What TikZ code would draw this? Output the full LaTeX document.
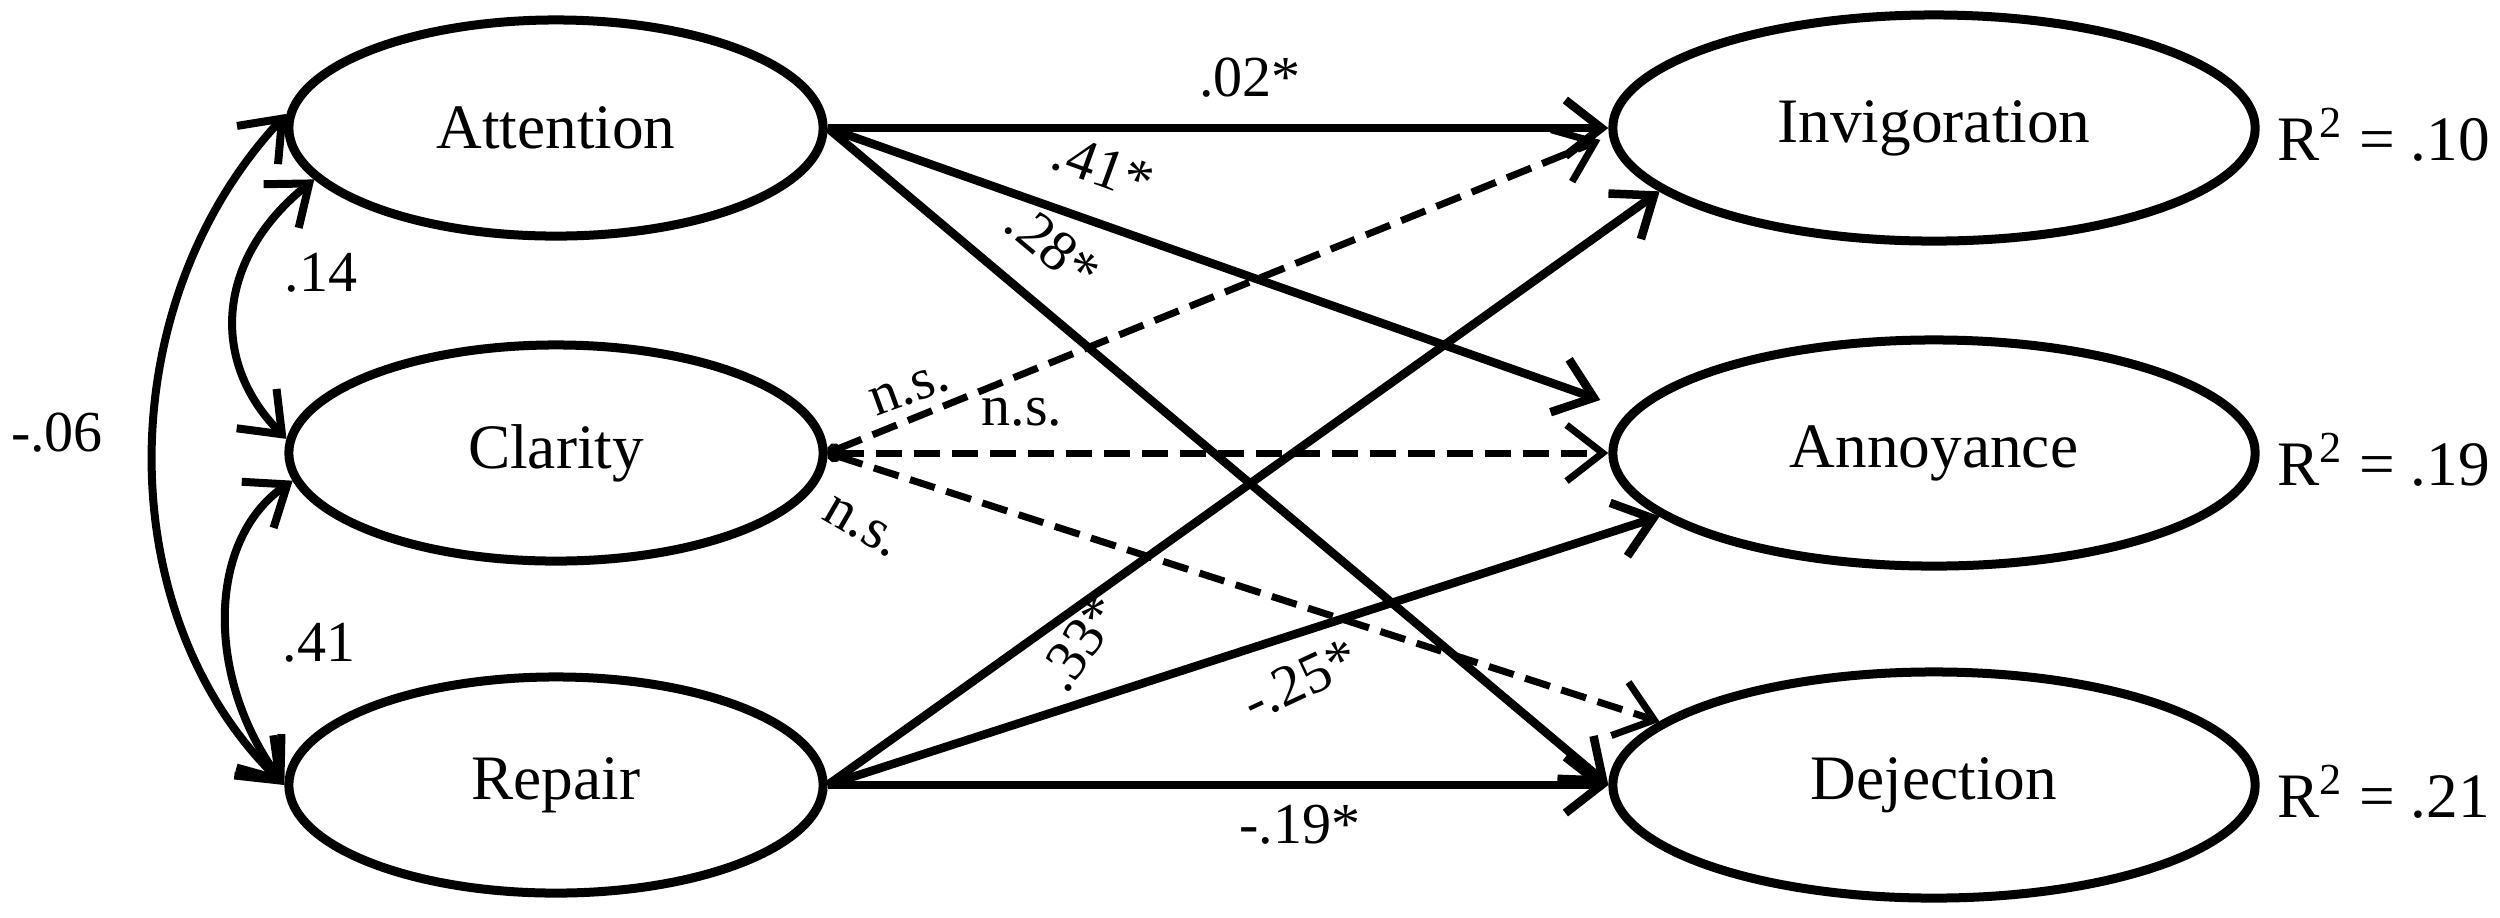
\documentclass[tikz,border=0pt]{standalone}
\usepackage{fontspec}
\setmainfont{Liberation Serif}
\usetikzlibrary{arrows.meta,shapes.geometric}
\begin{document}
\begin{tikzpicture}[x=0.01cm,y=-0.01cm,
  barb/.tip={Straight Barb[length=0.36cm,width=0.56cm]},
  latent/.style={ellipse,draw,line width=0.09cm,inner sep=0pt,font=\fontsize{18}{20}\selectfont},
  leftvar/.style={latent,minimum width=5.34cm,minimum height=2.16cm},
  rightvar/.style={latent,minimum width=6.42cm,minimum height=2.26cm},
  sigpath/.style={line width=0.085cm,-{barb}},
  nspath/.style={line width=0.07cm,dash pattern=on 0.26cm off 0.12cm,{Circle[length=0.14cm]}-{barb}},
  covpath/.style={line width=0.08cm,{barb}-{barb}},
  lab/.style={font=\fontsize{16.5}{18}\selectfont,inner sep=0pt},
  rsq/.style={font=\fontsize{18}{20}\selectfont,inner sep=0pt,anchor=base west}
]
\useasboundingbox (0,0) rectangle (2500,917);

% latent variables
\node[leftvar]  (att) at (556,128) {Attention};
\node[leftvar]  (cla) at (556,453) {Clarity};
\node[leftvar]  (rep) at (556,785) {Repair};
\node[rightvar] (inv) at (1934,128) {Invigoration};
\node[rightvar] (ann) at (1934,453) {Annoyance};
\node[rightvar] (dej) at (1934,785) {Dejection};

% R squared
\node[rsq] (r1) at ([xshift=0.17cm,yshift=-0.32cm]inv.east) {R\textsuperscript{2} = .10};
\node[rsq] (r2) at ([xshift=0.17cm,yshift=-0.32cm]ann.east) {R\textsuperscript{2} = .19};
\node[rsq] (r3) at ([xshift=0.17cm,yshift=-0.32cm]dej.east) {R\textsuperscript{2} = .21};

% free ends
\coordinate (invTop) at ([shift={(-8,12)}]inv.west);
\coordinate (annTop) at ([shift={(-8,-53)}]ann.west);

% covariances
\draw[covpath] (att.177) .. controls +(-177,190) and +(-175,-170) .. (rep.west);
\draw[covpath] (att.192) .. controls +(-97,78) and +(-78,-79) .. (cla.177);
\draw[covpath] (cla.186) .. controls +(-87,60) and +(-78,-105) .. (rep.west);

% significant paths
\draw[sigpath] (att.east) -- (inv.west);
\draw[sigpath] (att.east) -- (annTop);
\draw[sigpath] (att.east) -- (dej.west);
\draw[sigpath] (rep.east) -- (inv.193);
\draw[sigpath] (rep.east) -- (ann.193);
\draw[sigpath] (rep.east) -- (dej.west);

% non-significant paths
\draw[nspath] (cla.east) -- (invTop);
\draw[nspath] (cla.east) -- (ann.west);
\draw[nspath] (cla.east) -- (dej.167);

% path labels
\node[lab] (l1) at (1250,78) {.02*};
\node[lab,rotate=-20] (l2) at (1103,167) {.41*};
\node[lab,rotate=-40] (l3) at (1053,247) {.28*};
\node[lab,rotate=20] (l4) at (910,390) {n.s.};
\node[lab] (l5) at (1022,412) {n.s.};
\node[lab,rotate=-30] (l6) at (862,527) {n.s.};
\node[lab,rotate=55] (l7) at (1080,643) {.33*};
\node[lab,rotate=25] (l8) at (1300,680) {-.25*};
\node[lab] (l9) at (1300,825) {-.19*};

% covariance labels
\node[lab] (c1) at (321,273) {.14};
\node[lab] (c2) at (319,643) {.41};
\node[lab] (c3) at (57,433) {-.06};
\end{tikzpicture}
\end{document}
